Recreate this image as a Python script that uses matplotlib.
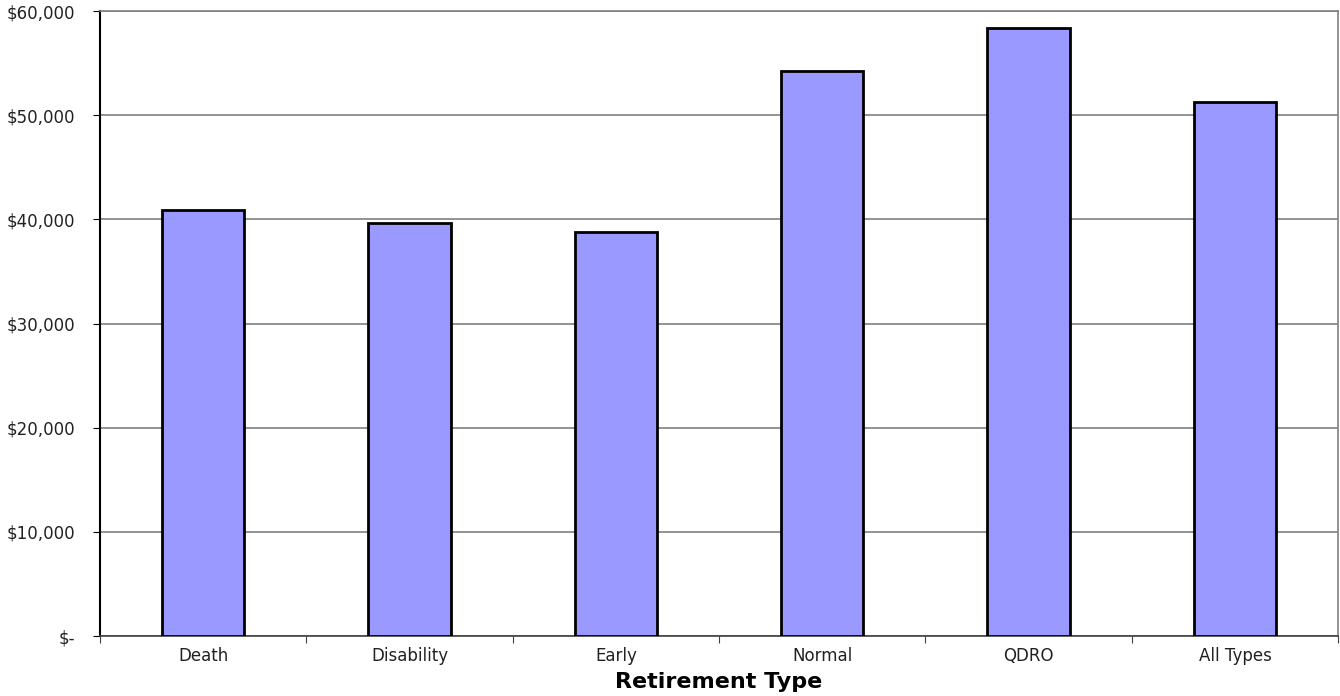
import matplotlib
matplotlib.use("Agg")
import matplotlib.pyplot as plt
import numpy as np
from matplotlib.ticker import FuncFormatter

plt.rcParams['font.family'] = ['DejaVu Sans']

## Donnees
categories = ['Death', 'Disability', 'Early', 'Normal', 'QDRO', 'All Types']
valeurs = [40900, 39650, 38750, 54250, 58350, 51250]

## Fenetre
fig = plt.figure(figsize=(13.4, 6.96), dpi=100)
ax = fig.add_axes([0.0746, 0.0862, 0.924, 0.8978])

x = np.arange(len(categories))
ax.bar(x, valeurs, width=0.4, color='#9999ff', edgecolor='black', linewidth=2, zorder=3)

ax.set_xlim(-0.5, len(categories) - 0.5)
ax.set_ylim(0, 60000)
ax.set_yticks(np.arange(0, 60001, 10000))

def dollars(v, pos):
    if v == 0:
        return '$-'
    return '${:,.0f}'.format(v)

ax.yaxis.set_major_formatter(FuncFormatter(dollars))
ax.yaxis.grid(True, color='#808080', linewidth=1.2, zorder=0)

# ticks de l'axe x entre les categories, labels au centre
ax.set_xticks(np.arange(-0.5, len(categories) + 0.5, 1))
ax.set_xticklabels([])
ax.set_xticks(x, minor=True)
ax.set_xticklabels(categories, minor=True)
ax.tick_params(axis='x', which='minor', length=0, labelsize=12, pad=8, labelcolor='#222222')
ax.tick_params(axis='x', which='major', length=5, direction='out', color='#404040')
ax.tick_params(axis='y', length=5, direction='out', labelsize=12, pad=13, labelcolor='#222222')

ax.spines['left'].set_color('black')
ax.spines['left'].set_linewidth(1.5)
ax.spines['bottom'].set_color('#404040')
ax.spines['bottom'].set_linewidth(1.2)
ax.spines['top'].set_color('#808080')
ax.spines['right'].set_color('#808080')
ax.spines['top'].set_linewidth(1.2)
ax.spines['right'].set_linewidth(1.2)

ax.set_xlabel('Retirement Type', fontsize=16, fontweight='bold', labelpad=5)

fig.savefig('out.png', dpi=100)
